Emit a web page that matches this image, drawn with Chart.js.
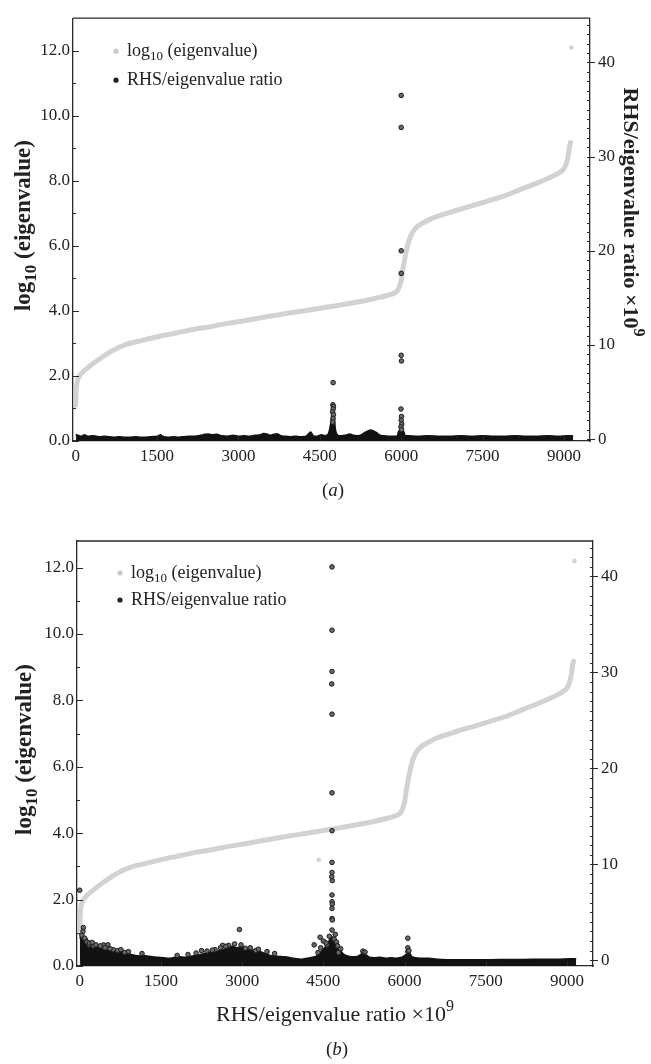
<!DOCTYPE html>
<html><head><meta charset="utf-8">
<script src="https://cdn.jsdelivr.net/npm/chart.js@4/dist/chart.umd.min.js"></script>
<style>
html,body{margin:0;padding:0;background:#fff;}
body{width:651px;height:1064px;position:relative;overflow:hidden;}
canvas{position:absolute;left:0;}
#ca{top:0;}
#cb{top:500px;}
</style></head><body>
<canvas id="ca" width="651" height="520"></canvas>
<canvas id="cb" width="651" height="564"></canvas>
<script>
// ---------- tick labels ----------
const xTicks = [0, 1500, 3000, 4500, 6000, 7500, 9000];
const leftTicks = [0, 2, 4, 6, 8, 10, 12];
const rightTicks = [0, 10, 20, 30, 40];

// ---------- log10(eigenvalue) curve (same spectrum in both panels) ----------
const eigX = [0, 8, 20, 45, 90, 135, 200, 320, 500, 690, 930, 1240, 1550, 1850, 2160, 2470, 2780, 3080, 3390, 3700, 4000, 4310, 4530, 4680, 4840, 5140, 5450, 5750, 5900, 5960, 6000, 6025, 6055, 6100, 6150, 6210, 6300, 6420, 6600, 6970, 7280, 7580, 7890, 8190, 8500, 8800, 8980, 9040, 9075, 9100, 9120];
const eigY = [1.1, 1.5, 1.75, 1.92, 2.05, 2.13, 2.22, 2.38, 2.59, 2.79, 2.97, 3.10, 3.22, 3.32, 3.43, 3.51, 3.61, 3.69, 3.78, 3.87, 3.95, 4.03, 4.09, 4.13, 4.17, 4.26, 4.36, 4.48, 4.57, 4.72, 4.94, 5.22, 5.50, 5.88, 6.20, 6.42, 6.60, 6.72, 6.87, 7.07, 7.22, 7.37, 7.53, 7.73, 7.93, 8.15, 8.33, 8.52, 8.74, 9.02, 9.18];
const eigStrayAX = [9136];
const eigStrayAY = [12.1];
const eigStrayBX = [9136, 4417];
const eigStrayBY = [12.2, 3.2];

// ---------- panel (a): RHS/eigenvalue ratio ----------
const bandAX = [0, 40, 100, 160, 230, 300, 380, 450, 530, 600, 700, 800, 900, 1000, 1100, 1200, 1300, 1400, 1500, 1560, 1620, 1700, 1800, 1900, 2000, 2100, 2200, 2300, 2380, 2450, 2520, 2600, 2700, 2800, 2900, 3000, 3100, 3200, 3300, 3400, 3460, 3520, 3580, 3650, 3720, 3780, 3850, 3950, 4050, 4150, 4250, 4330, 4380, 4450, 4530, 4600, 4660, 4700, 4725, 4745, 4765, 4790, 4830, 4900, 4970, 5050, 5120, 5200, 5280, 5350, 5420, 5480, 5540, 5600, 5680, 5760, 5850, 5930, 5955, 6040, 6070, 6150, 6300, 6500, 6700, 6900, 7100, 7300, 7500, 7700, 7900, 8100, 8300, 8500, 8700, 8900, 9050, 9150, 9170];
const bandAY = [0.5, 0.4, 0.3, 0.45, 0.3, 0.35, 0.3, 0.25, 0.3, 0.25, 0.2, 0.25, 0.2, 0.2, 0.25, 0.2, 0.2, 0.25, 0.3, 0.45, 0.25, 0.2, 0.25, 0.2, 0.25, 0.3, 0.3, 0.4, 0.5, 0.55, 0.45, 0.5, 0.35, 0.3, 0.4, 0.3, 0.35, 0.3, 0.4, 0.45, 0.6, 0.55, 0.4, 0.5, 0.55, 0.35, 0.3, 0.25, 0.3, 0.25, 0.3, 0.75, 0.35, 0.3, 0.45, 0.35, 0.6, 1.6, 2.8, 3.3, 2.4, 0.9, 0.4, 0.35, 0.4, 0.55, 0.4, 0.35, 0.5, 0.75, 0.95, 0.9, 0.7, 0.45, 0.35, 0.3, 0.3, 0.35, 0.85, 0.85, 0.4, 0.35, 0.3, 0.35, 0.3, 0.3, 0.35, 0.3, 0.35, 0.3, 0.3, 0.35, 0.3, 0.3, 0.35, 0.3, 0.35, 0.35, 0.3];
const outAX = [6000, 6000, 6000, 6000, 6000, 6005, 5995, 6005, 6000, 6010, 5995, 6005, 4745, 4740, 4750, 4745, 4735, 4752, 4745, 4738];
const outAY = [36.5, 33.1, 20.0, 17.6, 8.9, 8.3, 3.2, 2.4, 2.0, 1.6, 1.3, 1.0, 6.0, 3.65, 3.45, 3.2, 2.9, 2.6, 2.2, 1.8];

// ---------- panel (b): RHS/eigenvalue ratio ----------
const bandBX = [0, 30, 80, 140, 200, 268, 340, 400, 460, 540, 650, 720, 780, 860, 950, 1030, 1120, 1200, 1280, 1350, 1450, 1550, 1670, 1760, 1850, 1950, 2050, 2150, 2230, 2310, 2400, 2500, 2560, 2630, 2700, 2770, 2820, 2900, 2980, 3080, 3160, 3250, 3330, 3420, 3520, 3650, 3780, 3900, 4000, 4100, 4200, 4300, 4380, 4460, 4540, 4600, 4640, 4680, 4720, 4770, 4820, 4880, 4950, 5050, 5150, 5230, 5280, 5350, 5450, 5550, 5650, 5750, 5850, 5950, 6030, 6080, 6130, 6200, 6300, 6450, 6600, 6800, 7000, 7300, 7600, 7900, 8200, 8500, 8800, 9050, 9150, 9170];
const bandBY = [2.4, 2.2, 2.0, 1.75, 1.7, 1.6, 1.35, 1.2, 1.1, 1.0, 1.05, 0.95, 0.9, 0.75, 0.6, 0.5, 0.45, 0.5, 0.4, 0.35, 0.3, 0.25, 0.2, 0.3, 0.35, 0.3, 0.4, 0.5, 0.6, 0.7, 0.8, 0.9, 0.95, 1.1, 1.2, 1.35, 1.45, 1.3, 1.4, 1.3, 1.1, 1.0, 0.9, 0.7, 0.5, 0.4, 0.35, 0.25, 0.15, 0.1, 0.2, 0.3, 0.45, 0.9, 1.4, 2.0, 2.3, 2.4, 2.0, 1.5, 1.0, 0.6, 0.45, 0.35, 0.45, 0.75, 0.6, 0.3, 0.25, 0.3, 0.2, 0.25, 0.2, 0.3, 0.6, 0.85, 0.4, 0.25, 0.2, 0.2, 0.1, 0.05, 0.05, 0.05, 0.05, 0.08, 0.08, 0.1, 0.1, 0.15, 0.15, 0.1];
const outBX = [4660, 4660, 4660, 4655, 4660, 4660, 4660, 4660, 4660, 4655, 4665, 4660, 4660, 4665, 4660, 4660, 4665, 4660, 4610, 4570, 4700, 4720, 4740, 4760, 4820,
  0, 68, 60, 110, 170, 250, 440, 520, 620, 700, 830, 1150, 1800, 2000, 2250, 2500, 2640, 2750, 2950, 2980, 3060, 3250, 3460, 3600, 4330, 4440, 4500, 4780, 6060, 6060, 6060,
  40, 90, 130, 180, 230, 300, 380, 470, 560, 760, 900, 2150, 2350, 2450, 2600, 2700, 2860, 3150, 3300, 4400, 4450, 4550, 5230, 5270, 6080];
const outBY = [41.0, 34.4, 30.1, 28.8, 25.65, 17.45, 13.5, 10.2, 9.15, 8.7, 8.3, 6.8, 6.1, 5.85, 5.4, 4.35, 4.2, 3.15, 2.5, 1.6, 2.2, 2.7, 1.9, 1.5, 1.2,
  7.3, 3.4, 3.0, 2.1, 1.6, 1.5, 1.6, 1.6, 1.1, 1.0, 0.8, 0.7, 0.5, 0.6, 1.0, 1.1, 1.55, 1.55, 3.2, 1.6, 1.25, 1.0, 0.9, 0.7, 1.6, 2.4, 2.0, 0.8, 2.3, 1.3, 0.9,
  2.6, 2.3, 1.9, 1.8, 1.85, 1.6, 1.5, 1.3, 1.2, 1.1, 0.9, 0.75, 0.95, 1.05, 1.3, 1.45, 1.7, 1.3, 1.15, 0.8, 1.3, 1.8, 0.95, 0.85, 1.0];

// ---------- texts ----------
const legendEig = [{t: 'log'}, {t: '10', sub: true}, {t: ' (eigenvalue)'}];
const legendRatio = [{t: 'RHS/eigenvalue ratio'}];
const yTitle = [{t: 'log'}, {t: '10', sub: true}, {t: ' (eigenvalue)'}];
const ratioTitle = [{t: 'RHS/eigenvalue ratio \u00D710'}, {t: '9', sup: true}];
const capA = [{t: '('}, {t: 'a', italic: true}, {t: ')'}];
const capB = [{t: '('}, {t: 'b', italic: true}, {t: ')'}];

const FONT = '"Liberation Serif", "Times New Roman", serif';
const INK = '#222';
const CURVE = '#d2d2d2';
const pts = (xs, ys) => xs.map((x, i) => ({x: x, y: ys[i]}));

function drawRich(ctx, parts, cx, cy, rot, opt) {
  const size = opt.size, weight = opt.weight || 'normal';
  const fontOf = p => (p.italic ? 'italic ' : '') + weight + ' ' + ((p.sub || p.sup) ? Math.round(size * 0.72) : size) + 'px ' + FONT;
  ctx.save();
  ctx.translate(cx, cy);
  ctx.rotate(rot || 0);
  ctx.fillStyle = INK;
  ctx.textBaseline = 'middle';
  ctx.textAlign = 'left';
  const ws = parts.map(p => { ctx.font = fontOf(p); return ctx.measureText(p.t).width; });
  const total = ws.reduce((a, b) => a + b, 0);
  let x = opt.align === 'left' ? 0 : -total / 2;
  parts.forEach((p, i) => {
    ctx.font = fontOf(p);
    const dy = p.sub ? size * 0.32 : (p.sup ? -size * 0.36 : 0);
    ctx.fillText(p.t, x, dy);
    x += ws[i];
  });
  ctx.restore();
}

function makeDecor(P) {
  return {
    id: 'decor' + P.name,
    afterDraw(chart) {
      const ctx = chart.ctx, a = chart.chartArea, s = chart.scales;
      ctx.save();
      ctx.strokeStyle = '#2a2a2a';
      ctx.lineWidth = 1.3;
      const line = (x1, y1, x2, y2) => { ctx.beginPath(); ctx.moveTo(x1, y1); ctx.lineTo(x2, y2); ctx.stroke(); };
      line(a.left, a.top, a.right, a.top);
      ctx.lineWidth = 1;
      for (let v = 0; v <= s.y.max; v += 1) {
        const py = Math.round(s.y.getPixelForValue(v)) + 0.5;
        if (py < a.top + 1) continue;
        line(a.left, py, a.left + (leftTicks.includes(v) ? 6 : 3), py);
      }
      for (let v = 0; v <= s.y2.max; v += 1) {
        const py = Math.round(s.y2.getPixelForValue(v)) + 0.5;
        if (py < a.top + 1) continue;
        line(a.right, py, a.right - 3, py);
      }
      rightTicks.forEach(v => {
        const py = Math.round(s.y2.getPixelForValue(v)) + 0.5;
        line(a.right, py, a.right + 5, py);
      });
      xTicks.forEach(v => {
        const px = Math.round(s.x.getPixelForValue(v)) + 0.5;
        line(px, a.bottom, px, a.bottom - 5);
      });
      ctx.restore();
      drawRich(ctx, yTitle, P.yTitleX, (a.top + a.bottom) / 2 - 4, -Math.PI / 2, {size: 23, weight: 'bold'});
      if (P.rightTitle) drawRich(ctx, ratioTitle, P.rightTitleX, P.rightTitleY, Math.PI / 2, {size: 22, weight: 'bold'});
      if (P.xTitle) drawRich(ctx, ratioTitle, P.xTitleX, P.xTitleY, 0, {size: 22});
      drawRich(ctx, P.caption, P.capX, P.capY, 0, {size: 19});
      const lx = a.left + 43, tx = a.left + 54;
      const r1 = a.top + P.leg1, r2 = a.top + P.leg2;
      ctx.save();
      ctx.fillStyle = '#cacaca';
      ctx.beginPath(); ctx.arc(lx, r1, 2.6, 0, Math.PI * 2); ctx.fill();
      ctx.fillStyle = '#222';
      ctx.beginPath(); ctx.arc(lx, r2, 2.6, 0, Math.PI * 2); ctx.fill();
      ctx.restore();
      drawRich(ctx, legendEig, tx, r1, 0, {size: 18, align: 'left'});
      drawRich(ctx, legendRatio, tx, r2, 0, {size: 18, align: 'left'});
    }
  };
}

function makeChart(id, P) {
  const tickFont = {family: FONT, size: 17};
  const common = {
    grid: {display: false, drawTicks: false},
    border: {display: true, color: '#2a2a2a', width: 1.3}
  };
  return new Chart(document.getElementById(id), {
    type: 'scatter',
    data: {
      datasets: [
        {type: 'scatter', label: 'ratio outliers', data: pts(P.outX, P.outY), yAxisID: 'y2', order: 0,
         pointRadius: 2.3, pointBorderWidth: 1, pointBackgroundColor: '#6a6a6a', pointBorderColor: '#1a1a1a'},
        {type: 'line', label: 'RHS/eigenvalue ratio', data: pts(P.bandX, P.bandY), yAxisID: 'y2', order: 1,
         borderColor: '#121212', backgroundColor: '#121212', borderWidth: 1.6, pointRadius: 0, fill: 'start', tension: 0.25},
        {type: 'line', label: 'log10 (eigenvalue)', data: pts(eigX, eigY), yAxisID: 'y', order: 2,
         borderColor: CURVE, borderWidth: 5, pointRadius: 0, fill: false, tension: 0.3, borderCapStyle: 'round', borderJoinStyle: 'round'},
        {type: 'scatter', label: 'eig strays', data: pts(P.strayX, P.strayY), yAxisID: 'y', order: 3,
         pointRadius: 2.3, pointBorderWidth: 0, pointBackgroundColor: CURVE}
      ]
    },
    options: {
      responsive: false,
      animation: false,
      events: [],
      layout: {padding: {top: P.top, left: 0, right: 0, bottom: 0}},
      plugins: {legend: {display: false}, tooltip: {enabled: false}},
      scales: {
        x: Object.assign({}, common, {
          type: 'linear', position: 'bottom', min: -50, max: 9480,
          ticks: {font: tickFont, color: INK, padding: 5, maxRotation: 0, autoSkip: false, callback: v => String(v)},
          afterBuildTicks: sc => { sc.ticks = xTicks.map(v => ({value: v})); },
          afterFit: sc => { sc.height = P.xh; }
        }),
        y: Object.assign({}, common, {
          type: 'linear', position: 'left', min: 0, max: P.lmax,
          ticks: {font: tickFont, color: INK, padding: 3, callback: v => Number(v).toFixed(1)},
          afterBuildTicks: sc => { sc.ticks = leftTicks.map(v => ({value: v})); },
          afterFit: sc => { sc.width = P.lw; }
        }),
        y2: Object.assign({}, common, {
          type: 'linear', position: 'right', min: P.rmin, max: P.rmax,
          ticks: {font: tickFont, color: INK, padding: 8, callback: v => String(v)},
          afterBuildTicks: sc => { sc.ticks = rightTicks.map(v => ({value: v})); },
          afterFit: sc => { sc.width = P.rw; }
        })
      }
    },
    plugins: [makeDecor(P)]
  });
}

makeChart('ca', {
  name: 'A', top: 17, xh: 520 - 441, lw: 73, rw: 651 - 590, lmax: 13, rmin: -0.2, rmax: 44.7,
  bandX: bandAX, bandY: bandAY, outX: outAX, outY: outAY, strayX: eigStrayAX, strayY: eigStrayAY,
  yTitleX: 24, rightTitle: true, rightTitleX: 630, rightTitleY: 212,
  caption: capA, capX: 333, capY: 491, leg1: 33, leg2: 62
});
makeChart('cb', {
  name: 'B', top: 41, xh: 564 - 466, lw: 77, rw: 651 - 593, lmax: 12.8, rmin: -0.6, rmax: 43.7,
  bandX: bandBX, bandY: bandBY, outX: outBX, outY: outBY, strayX: eigStrayBX, strayY: eigStrayBY,
  yTitleX: 25, xTitle: true, xTitleX: 335, xTitleY: 515,
  caption: capB, capX: 337, capY: 550, leg1: 32, leg2: 59
});
</script>
</body></html>
